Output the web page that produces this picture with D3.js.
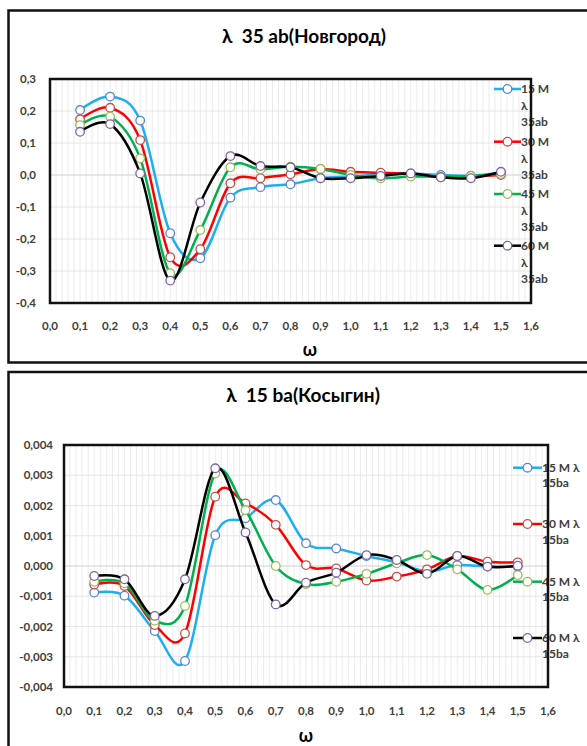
<!DOCTYPE html>
<html>
<head>
<meta charset="utf-8">
<script src="https://cdn.jsdelivr.net/npm/d3@7"></script>
<style>
  html, body { margin: 0; padding: 0; background: #fff; }
  svg { display: block; font-family: Lato, "Open Sans", "DejaVu Sans", sans-serif; }
  .title { white-space: pre; }
</style>
</head>
<body>
<svg id="chart" width="587" height="746"></svg>
<script>
// Frequencies ω shared by both panels
const omega = [0.1, 0.2, 0.3, 0.4, 0.5, 0.6, 0.7, 0.8, 0.9, 1.0, 1.1, 1.2, 1.3, 1.4, 1.5];

// λ 35 ab (Новгород)
const nov15 = [0.203, 0.245, 0.170, -0.182, -0.260, -0.071, -0.038, -0.029, -0.010, -0.005, 0.003, 0.005, 0.000, -0.002, 0.007];
const nov30 = [0.174, 0.210, 0.109, -0.257, -0.232, -0.026, -0.010, 0.002, 0.019, 0.010, 0.007, 0.003, -0.007, -0.005, 0.000];
const nov45 = [0.156, 0.182, 0.052, -0.307, -0.172, 0.024, 0.018, 0.026, 0.019, 0.000, -0.010, -0.005, -0.005, -0.003, 0.003];
const nov60 = [0.135, 0.159, 0.005, -0.330, -0.086, 0.059, 0.028, 0.024, -0.010, -0.010, -0.003, 0.005, -0.007, -0.010, 0.010];

// λ 15 ba (Косыгин)
const kos15 = [-0.00088, -0.00098, -0.00215, -0.00314, 0.00102, 0.00158, 0.00218, 0.00075, 0.00058, 0.00033, 0.00012, -0.00018, 0.00003, -0.00002, -0.00002];
const kos30 = [-0.00061, -0.00066, -0.00195, -0.00223, 0.00229, 0.00207, 0.00136, 0.00003, -0.00008, -0.00048, -0.00035, -0.00011, 0.00033, 0.00014, 0.00012];
const kos45 = [-0.00052, -0.00057, -0.00181, -0.00132, 0.00306, 0.00185, 0.00000, -0.00060, -0.00052, -0.00026, 0.00009, 0.00036, -0.00011, -0.00079, -0.00030];
const kos60 = [-0.00033, -0.00044, -0.00165, -0.00044, 0.00323, 0.00111, -0.00127, -0.00055, -0.00022, 0.00036, 0.00020, -0.00026, 0.00033, -0.00002, 0.00001];

// Axis ticks
const xTicks = [0, 0.1, 0.2, 0.3, 0.4, 0.5, 0.6, 0.7, 0.8, 0.9, 1.0, 1.1, 1.2, 1.3, 1.4, 1.5, 1.6];
const novTicks = [0.3, 0.2, 0.1, 0.0, -0.1, -0.2, -0.3, -0.4];
const kosTicks = [0.004, 0.003, 0.002, 0.001, 0.000, -0.001, -0.002, -0.003, -0.004];

// Series labels and styling
const novNames = [["15 M", "λ", "35ab"], ["30 M", "λ", "35ab"], ["45 M", "λ", "35ab"], ["60 M", "λ", "35ab"]];
const kosNames = [["15 M λ", "15ba"], ["30 M λ", "15ba"], ["45 M λ", "15ba"], ["60 M λ", "15ba"]];
const lineColors = ["#1eaff0", "#ff0000", "#00b050", "#000000"];
const markColors = ["#5b84d0", "#c0504d", "#9bbb59", "#8064a2"];

const svg = d3.select("#chart");
const comma = (s) => s.replace(".", ",").replace("−", "-");

function panel(cfg) {
  const g = svg.append("g");
  // outer frame (runs off the right edge)
  g.append("rect")
    .attr("x", 8.5).attr("y", cfg.frameTop)
    .attr("width", 640).attr("height", cfg.frameH)
    .attr("fill", "#fff").attr("stroke", "#111").attr("stroke-width", 2.5);

  const x = d3.scaleLinear().domain([0, 1.6]).range([cfg.l, cfg.r]);
  const y = d3.scaleLinear().domain(cfg.yDomain).range([cfg.b, cfg.t]);

  // minor vertical grid
  g.append("g").selectAll("line")
    .data(d3.range(1, 80).map(i => i * 0.02))
    .join("line")
    .attr("x1", d => x(d)).attr("x2", d => x(d))
    .attr("y1", cfg.t).attr("y2", cfg.b)
    .attr("stroke", "#ececec").attr("stroke-width", 1);

  // horizontal major grid
  g.append("g").selectAll("line")
    .data(cfg.yTicks)
    .join("line")
    .attr("x1", cfg.l).attr("x2", cfg.r)
    .attr("y1", d => y(d)).attr("y2", d => y(d))
    .attr("stroke", d => Math.abs(d) < 1e-12 ? "#d0d0d0" : "#e6e6e6")
    .attr("stroke-width", 1);

  // y tick labels
  const yFmt = d3.format(cfg.yFmt);
  g.append("g").selectAll("text")
    .data(cfg.yTicks)
    .join("text")
    .attr("x", cfg.l - cfg.yGap).attr("y", d => y(d))
    .attr("dy", "0.35em")
    .attr("text-anchor", "end")
    .attr("font-size", 11.5).attr("font-weight", 700).attr("fill", "#404040")
    .text(d => comma(yFmt(Math.abs(d) < 1e-12 ? 0 : d)));

  // x tick labels
  const xFmt = d3.format(".1f");
  g.append("g").selectAll("text")
    .data(xTicks)
    .join("text")
    .attr("x", d => x(d)).attr("y", cfg.xLabY)
    .attr("dy", "0.35em")
    .attr("text-anchor", "middle")
    .attr("font-size", 11.5).attr("font-weight", 700).attr("fill", "#404040")
    .text(d => comma(xFmt(d)));

  // series
  const line = d3.line()
    .x((d, i) => x(omega[i]))
    .y(d => y(d))
    .curve(d3.curveCardinal.tension(0));

  cfg.series.forEach((vals, k) => {
    g.append("path")
      .attr("d", line(vals))
      .attr("fill", "none")
      .attr("stroke", lineColors[k]).attr("stroke-width", 2.5)
      .attr("stroke-linejoin", "round");
    g.append("g").selectAll("circle")
      .data(vals)
      .join("circle")
      .attr("cx", (d, i) => x(omega[i])).attr("cy", d => y(d))
      .attr("r", 4.3)
      .attr("fill", "#fff")
      .attr("stroke", markColors[k]).attr("stroke-width", 1.3);
  });

  // legend
  cfg.names.forEach((rows, k) => {
    const ly = cfg.legY[k];
    const lg = g.append("g");
    lg.append("line")
      .attr("x1", cfg.legX0).attr("x2", cfg.legX1)
      .attr("y1", ly).attr("y2", ly)
      .attr("stroke", lineColors[k]).attr("stroke-width", 2.5);
    lg.append("circle")
      .attr("cx", (cfg.legX0 + cfg.legX1) / 2).attr("cy", ly).attr("r", 4.3)
      .attr("fill", "#fff").attr("stroke", markColors[k]).attr("stroke-width", 1.3);
    rows.forEach((t, j) => {
      lg.append("text")
        .attr("x", cfg.legX1).attr("y", ly + j * cfg.legLH)
        .attr("dy", "0.35em")
        .attr("font-size", 12).attr("font-weight", 700).attr("fill", "#404040")
        .text(t);
    });
  });

  // plot-area border
  g.append("rect")
    .attr("x", cfg.l).attr("y", cfg.t)
    .attr("width", cfg.r - cfg.l).attr("height", cfg.b - cfg.t)
    .attr("fill", "none").attr("stroke", "#111").attr("stroke-width", 2.5);

  // title
  g.append("text")
    .attr("class", "title")
    .attr("x", cfg.titleX).attr("y", cfg.titleY)
    .attr("dy", "0.35em")
    .attr("text-anchor", "middle")
    .attr("font-size", 19).attr("font-weight", 700).attr("fill", "#000")
    .text(cfg.title);

  // x-axis name
  g.append("text")
    .attr("x", cfg.omX).attr("y", cfg.omY)
    .attr("dy", "0.35em")
    .attr("text-anchor", "middle")
    .attr("font-size", 18).attr("font-weight", 700).attr("fill", "#000")
    .text("ω");
}

panel({
  frameTop: 10.5, frameH: 352,
  l: 50, t: 79, r: 531, b: 303,
  yDomain: [-0.4, 0.3], yTicks: novTicks, yFmt: ".1f", yGap: 14,
  xLabY: 326,
  series: [nov15, nov30, nov45, nov60],
  names: novNames,
  legX0: 494, legX1: 521,
  legY: [89, 141.7, 194, 245.7], legLH: 16.6,
  title: "λ  35 ab(Новгород)", titleX: 304, titleY: 36,
  omX: 310, omY: 350
});

panel({
  frameTop: 372, frameH: 420,
  l: 64, t: 445, r: 548, b: 687,
  yDomain: [-0.004, 0.004], yTicks: kosTicks, yFmt: ".3f", yGap: 11,
  xLabY: 711,
  series: [kos15, kos30, kos45, kos60],
  names: kosNames,
  legX0: 513, legX1: 542,
  legY: [467.7, 524, 581.7, 638], legLH: 15.3,
  title: "λ  15 ba(Косыгин)", titleX: 303, titleY: 395,
  omX: 306, omY: 736
});
</script>
</body>
</html>
